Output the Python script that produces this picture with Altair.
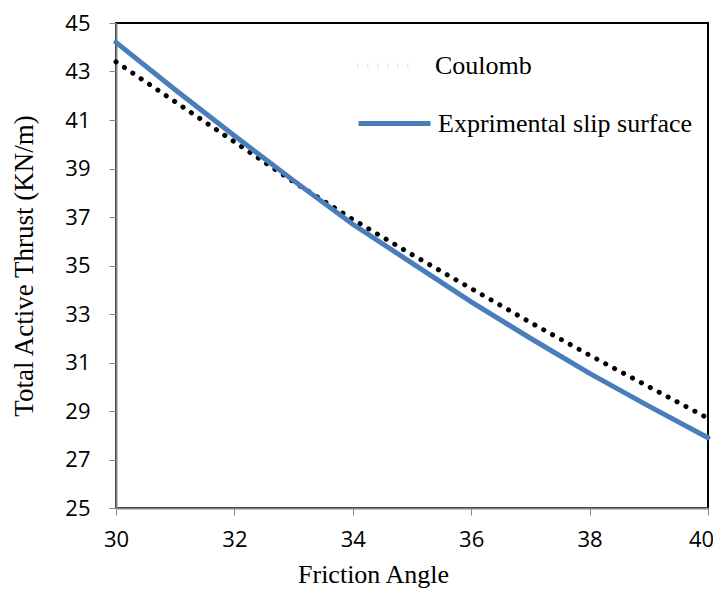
import altair as alt
import pandas as pd

angle = [30, 31, 32, 33, 34, 35, 36, 37, 38, 39, 40]
coulomb = [43.4, 41.75, 40.1, 38.45, 36.9, 35.45, 34.05, 32.65, 31.3, 30.0, 28.7]
experimental = [44.2, 42.25, 40.35, 38.5, 36.7, 35.1, 33.5, 32.0, 30.55, 29.2, 27.9]
series_names = ["Coulomb", "Exprimental slip surface"]
x_ticks = [30, 32, 34, 36, 38, 40]
y_ticks = [25, 27, 29, 31, 33, 35, 37, 39, 41, 43, 45]

df_c = pd.DataFrame({"angle": angle, "thrust": coulomb, "series": series_names[0]})
df_e = pd.DataFrame({"angle": angle, "thrust": experimental, "series": series_names[1]})

# dotted legend symbol: six round dots built from short stacked strokes
# (path units are scaled by sqrt(size)/2 = 36px per unit)
U = 36.0
dot_centers_px = [-33.0, -23.0, -13.0, -3.0, 7.0, 17.0]
dot_rows_px = [(-2.2, 1.6), (-1.1, 2.5), (0.0, 2.8), (1.1, 2.5), (2.2, 1.6)]
dots_path = " ".join(
    f"M{(c - hw) / U:.4f},{dy / U:.4f} L{(c + hw) / U:.4f},{dy / U:.4f}"
    for c in dot_centers_px for dy, hw in dot_rows_px
)

common_legend = dict(
    title=None, orient="none", legendX=240, symbolSize=5184,
    labelFont="Liberation Serif", labelFontSize=26, labelColor="#000000",
    labelOffset=5, labelLimit=0,
)

x_enc = alt.X("angle:Q", title="Friction Angle",
              scale=alt.Scale(domain=[30, 40], nice=False, zero=False),
              axis=alt.Axis(values=x_ticks, labelPadding=14, labelFlush=False,
                            labelOffset={"expr": "datum.value == 40 ? -7 : 0"},
                            titleX=257, titleY=53, titleBaseline="top"))
y_enc = alt.Y("thrust:Q", title="Total Active Thrust (KN/m)",
              scale=alt.Scale(domain=[25, 45], nice=False, zero=False),
              axis=alt.Axis(values=y_ticks, labelPadding=19, titlePadding=26,
                            titleFontSize=27))

coulomb_layer = alt.Chart(df_c).mark_line(strokeWidth=5, strokeCap="round").encode(
    x=x_enc, y=y_enc,
    color=alt.Color("series:N", scale=alt.Scale(domain=[series_names[0]], range=["#000000"]),
                    legend=alt.Legend(legendY=6, symbolType=dots_path, symbolStrokeWidth=1.5,
                                      **common_legend)),
    strokeDash=alt.StrokeDash("series:N", scale=alt.Scale(domain=[series_names[0]], range=[[0.1, 10]]),
                              legend=None),
)

exp_layer = alt.Chart(df_e).mark_line(strokeWidth=5, strokeCap="round").encode(
    x=x_enc, y=y_enc,
    color=alt.Color("series:N", scale=alt.Scale(domain=[series_names[1]], range=["#4a7ebb"]),
                    legend=alt.Legend(legendY=62, symbolType="stroke", symbolStrokeWidth=5,
                                      **common_legend)),
)

chart = alt.layer(coulomb_layer, exp_layer).resolve_scale(
    color="independent", strokeDash="independent"
).resolve_legend(color="independent").properties(
    width=592, height=485,
    autosize=alt.AutoSizeParams(type="none"),
    padding={"top": 15, "left": 108, "right": 5, "bottom": 82},
).configure_view(
    stroke="#000000", strokeWidth=2
).configure_axis(
    grid=False, domainColor="#868686", domainWidth=2, tickColor="#868686", tickSize=7, tickWidth=1,
    labelFont="Open Sans", labelFontSize=22, labelColor="#000000",
    titleFont="Liberation Serif", titleFontSize=26, titleFontWeight="normal", titleColor="#000000",
    zindex=1,
)

chart.save("out.html", embed_options={"renderer": "svg", "actions": False})
